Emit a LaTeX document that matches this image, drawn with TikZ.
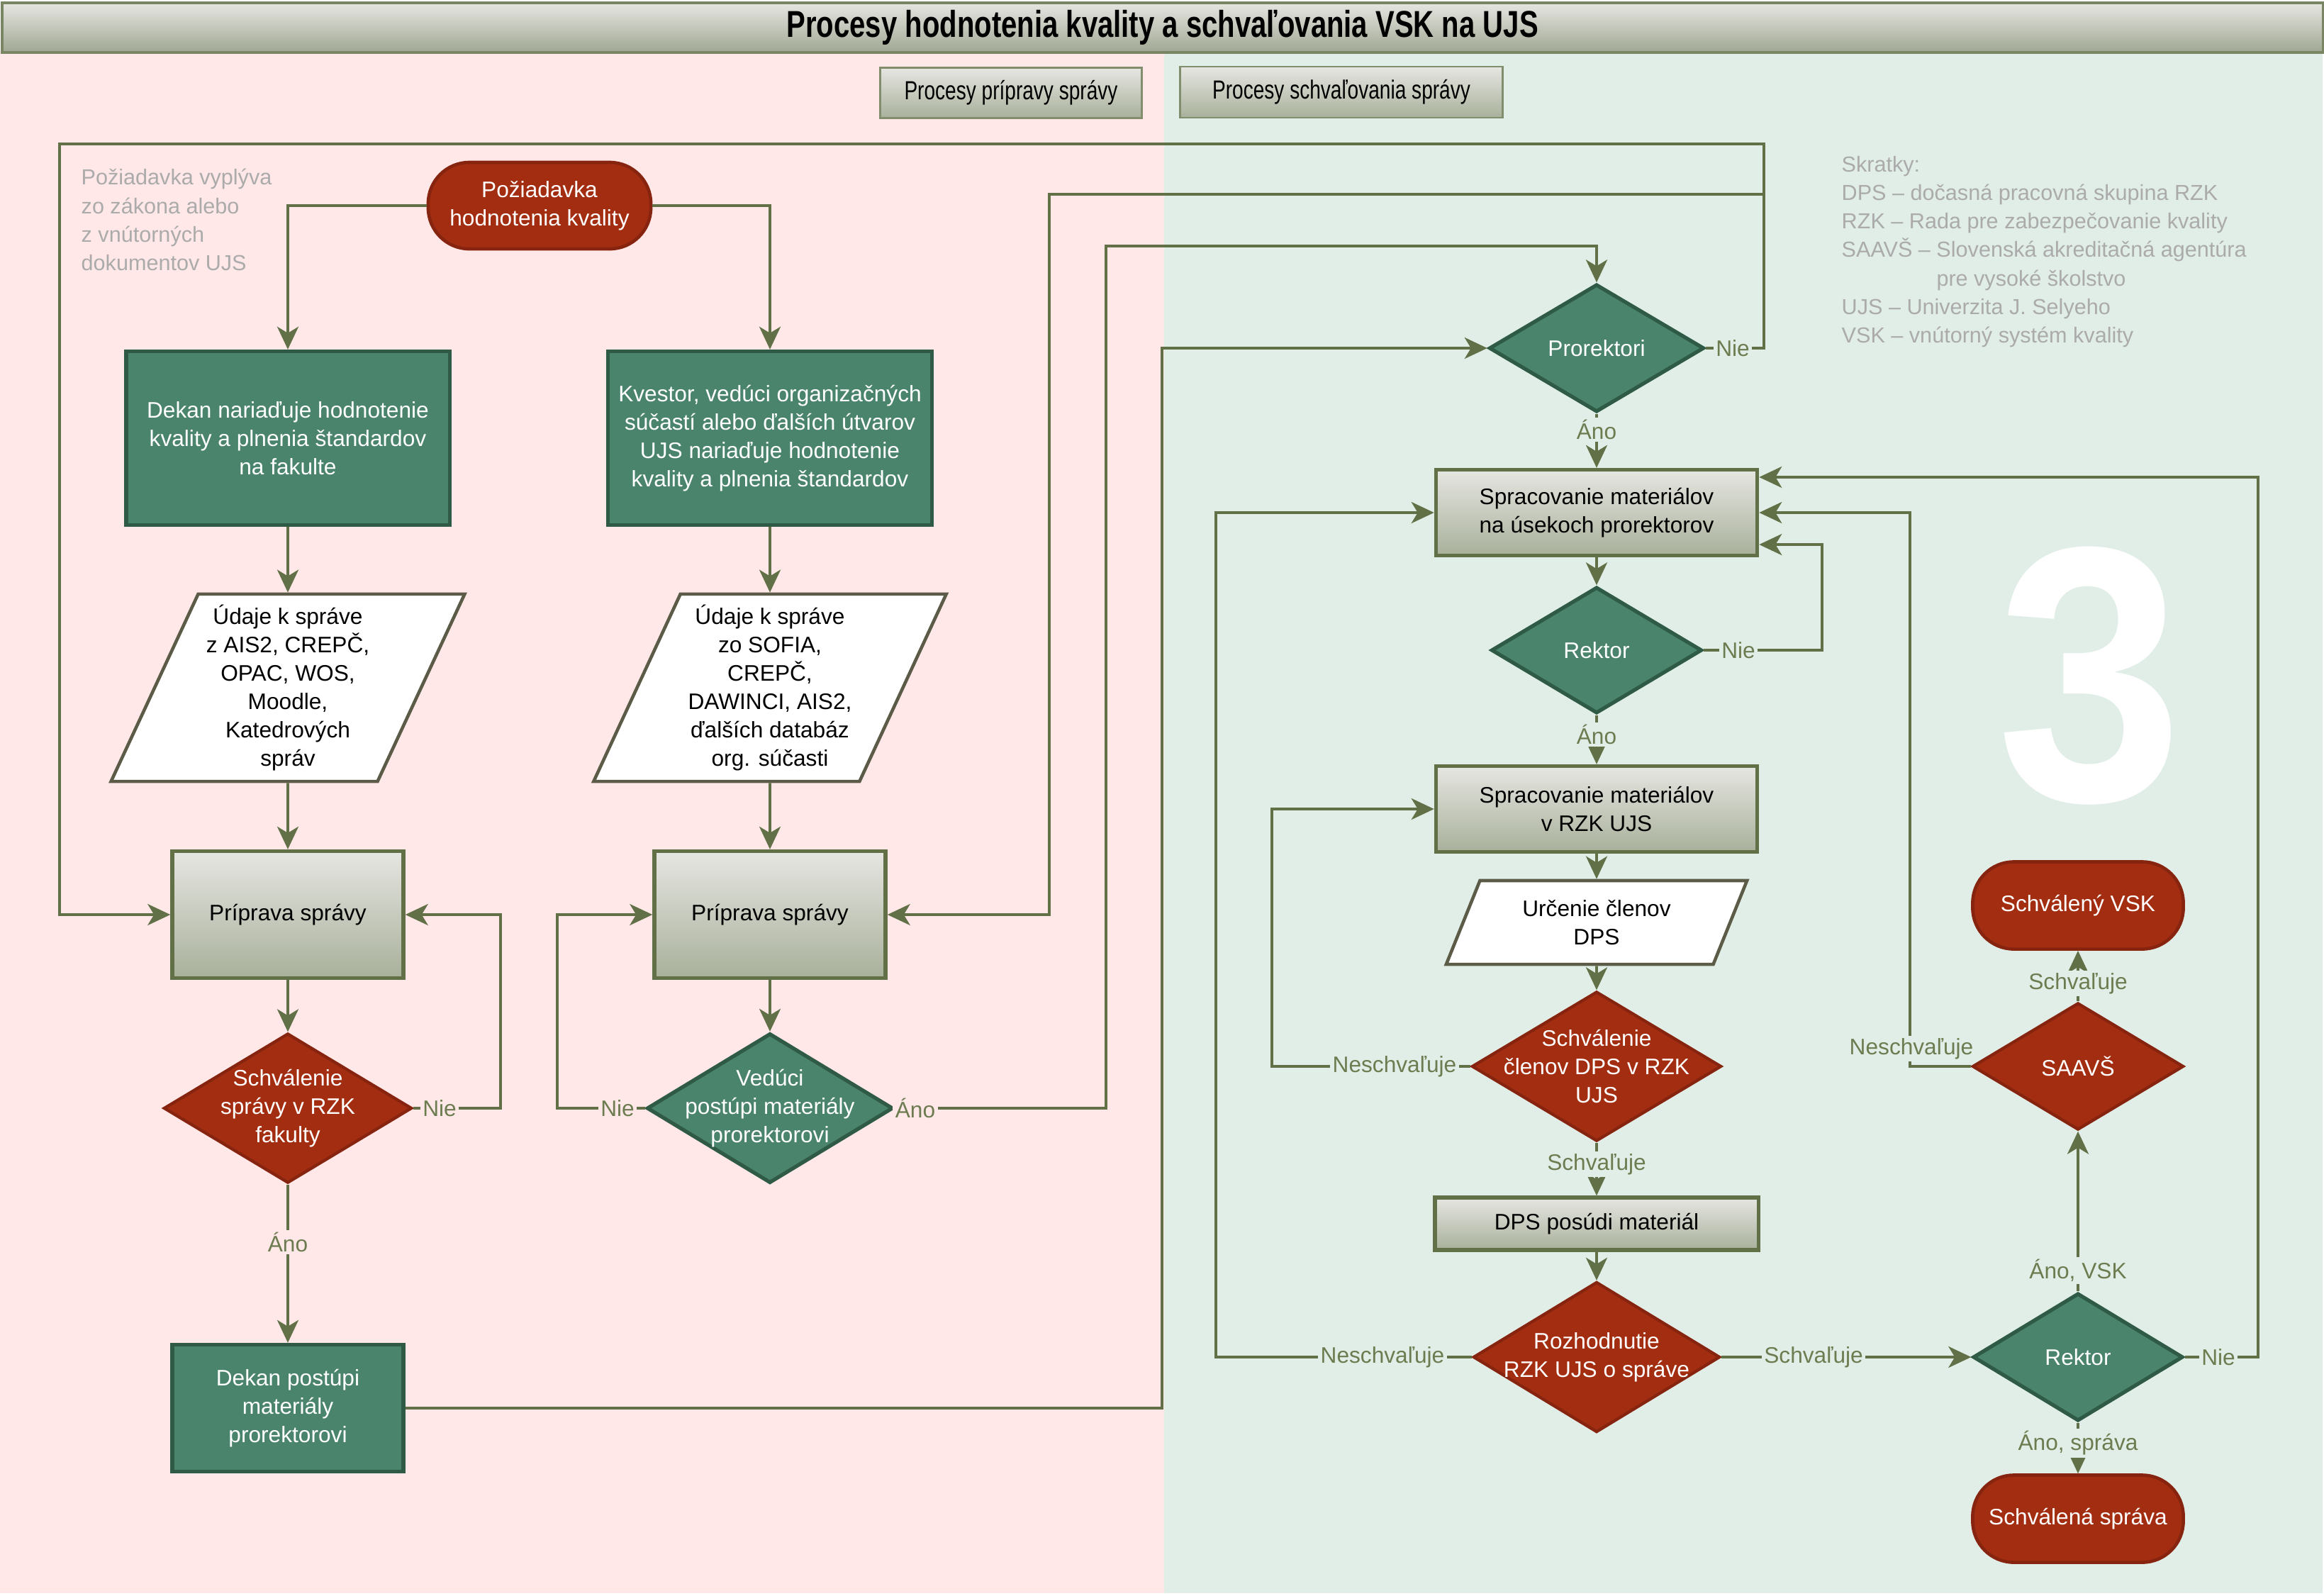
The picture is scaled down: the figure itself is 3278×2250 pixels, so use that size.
\documentclass[tikz,border=0pt]{standalone}
\usepackage{fontspec}
\setmainfont{Liberation Sans}
\newfontfamily\condfont{Liberation Sans}[FakeStretch=0.76]
\newfontfamily\digitfont{Liberation Sans}[FakeStretch=0.92]
\usetikzlibrary{shapes.geometric,arrows.meta}
\definecolor{bgP}{HTML}{FFE8E7}
\definecolor{bgG}{HTML}{E1EEE7}
\definecolor{ngreen}{HTML}{4A846C}
\definecolor{ngreenD}{HTML}{2F5B46}
\definecolor{nred}{HTML}{A32D10}
\definecolor{nredD}{HTML}{86240F}
\definecolor{lnc}{HTML}{617047}
\definecolor{gTop}{HTML}{E6E6E2}
\definecolor{gBot}{HTML}{A8B09A}
\definecolor{lblc}{HTML}{6D7C50}
\definecolor{notec}{HTML}{ABABAB}
\definecolor{parab}{HTML}{5B5B47}
\newcommand\mynf{\fontsize{9}{11.4}\selectfont}
\newcommand\mynotef{\fontsize{8.7}{11.4}\selectfont}
\begin{document}
\begin{tikzpicture}[x=0.01cm,y=-0.01cm,
  base/.style={align=center, inner sep=0pt, font=\mynf},
  proc/.style={base, rectangle, fill=ngreen, draw=ngreenD, line width=1.5pt, text=white},
  gbox/.style={base, rectangle, top color=gTop, bottom color=gBot, draw=lnc, line width=1.5pt, text=black},
  term/.style={base, rectangle, rounded corners=0.58cm, fill=nred, draw=nredD, line width=1.3pt, text=white, minimum width=2.97cm, minimum height=1.23cm},
  decr/.style={diamond, inner sep=0pt, fill=nred, draw=nredD, line width=1.2pt},
  decg/.style={diamond, inner sep=0pt, fill=ngreen, draw=ngreenD, line width=1.5pt},
  dtext/.style={base, text=white},
  para/.style={base, trapezium, trapezium left angle=64.5, trapezium right angle=115.5, trapezium stretches=true, fill=white, draw=parab, line width=1.3pt, text=black},
  conn/.style={draw=lnc, line width=1.1pt},
  arr/.style={conn, -{Stealth[length=0.32cm,width=0.3cm,inset=0.09cm]}},
  lblP/.style={font=\mynf, text=lblc, fill=bgP, inner sep=1pt},
  lblG/.style={font=\mynf, text=lblc, fill=bgG, inner sep=1pt},
  note/.style={font=\mynotef, text=notec, inner sep=0pt, anchor=west, align=left},
  btn/.style={rectangle, top color=gTop, bottom color=gBot, draw=lnc!80, line width=0.8pt, inner sep=0pt, font=\condfont\fontsize{10.5}{12}\selectfont}
]
\useasboundingbox (0,0) rectangle (3278,2250);
\fill[bgP] (0,72) rectangle (1642,2247);
\fill[bgG] (1642,72) rectangle (3276,2247);

% title bar
\node[rectangle, top color=gTop, bottom color=gBot!95!black, draw=lnc!85, line width=1pt, minimum width=32.72cm, minimum height=0.70cm, inner sep=0pt, anchor=north west, font=\condfont\bfseries\fontsize{15}{17}\selectfont] (title) at (1,2) {Procesy hodnotenia kvality a schvaľovania VSK na UJS};

\node[btn, minimum width=3.69cm, minimum height=0.71cm] (leg1) at (1426,131) {Procesy prípravy správy};
\node[btn, minimum width=4.54cm, minimum height=0.72cm] (leg2) at (1892,130) {Procesy schvaľovania správy};

% notes
\node[note] (note1) at (114,310) {Požiadavka vyplýva\\zo zákona alebo\\z vnútorných\\dokumentov UJS};
\node[note] (abbr) at (2597,355) {Skratky:\\DPS – dočasná pracovná skupina RZK\\RZK – Rada pre zabezpečovanie kvality\\SAAVŠ – Slovenská akreditačná agentúra\\\phantom{SAAVŠ – }pre vysoké školstvo\\UJS – Univerzita J. Selyeho\\VSK – vnútorný systém kvality};

\node[text=white, font=\digitfont\fontsize{146}{146}\selectfont\bfseries, inner sep=0pt] (three) at (2948,953) {3};

% left part
\node[term, minimum width=3.14cm, minimum height=1.22cm] (poz) at (761,290) {Požiadavka\\hodnotenia kvality};
\node[proc, minimum width=4.56cm, minimum height=2.45cm] (dekan) at (406,618) {Dekan nariaďuje hodnotenie\\kvality a plnenia štandardov\\na fakulte};
\node[proc, minimum width=4.57cm, minimum height=2.45cm] (kvestor) at (1086,618) {Kvestor, vedúci organizačných\\súčastí alebo ďalších útvarov\\UJS nariaďuje hodnotenie\\kvality a plnenia štandardov};
\node[para, minimum width=4.99cm, minimum height=2.64cm] (dat1) at (406,970) {Údaje k správe\\z AIS2, CREPČ,\\OPAC, WOS,\\Moodle,\\Katedrových\\správ};
\node[para, minimum width=4.98cm, minimum height=2.64cm] (dat2) at (1086,970) {Údaje k správe\\zo SOFIA,\\CREPČ,\\DAWINCI, AIS2,\\ďalších databáz\\org. súčasti};
\node[gbox, minimum width=3.26cm, minimum height=1.79cm] (prip1) at (406,1290) {Príprava správy};
\node[gbox, minimum width=3.26cm, minimum height=1.79cm] (prip2) at (1086,1290) {Príprava správy};
\node[decr, minimum width=3.50cm, minimum height=2.11cm, label={[dtext]center:{Schválenie\\správy v RZK\\fakulty}}] (sch1) at (406,1563) {};
\node[decg, minimum width=3.47cm, minimum height=2.11cm, label={[dtext]center:{Vedúci\\postúpi materiály\\prorektorovi}}] (ved) at (1086,1563) {};
\node[proc, minimum width=3.26cm, minimum height=1.79cm] (dekan2) at (406,1986) {Dekan postúpi\\materiály\\prorektorovi};

% right part
\node[decg, minimum width=3.03cm, minimum height=1.80cm, label={[dtext]center:{Prorektori}}] (pror) at (2252,491) {};
\node[gbox, minimum width=4.53cm, minimum height=1.21cm] (spr1) at (2252,723) {Spracovanie materiálov\\na úsekoch prorektorov};
\node[decg, minimum width=2.97cm, minimum height=1.78cm, label={[dtext]center:{Rektor}}] (rek1) at (2252,917) {};
\node[gbox, minimum width=4.53cm, minimum height=1.21cm] (spr2) at (2252,1141) {Spracovanie materiálov\\v RZK UJS};
\node[para, minimum width=4.25cm, minimum height=1.18cm] (urc) at (2252,1301) {Určenie členov\\DPS};
\node[decr, minimum width=3.52cm, minimum height=2.11cm, label={[dtext]center:{Schválenie\\členov DPS v RZK\\UJS}}] (sch2) at (2252,1504) {};
\node[gbox, minimum width=4.56cm, minimum height=0.74cm] (dps) at (2252,1726) {DPS posúdi materiál};
\node[decr, minimum width=3.48cm, minimum height=2.12cm, label={[dtext]center:{Rozhodnutie\\RZK UJS o správe}}] (roz) at (2252,1914) {};
\node[decg, minimum width=2.96cm, minimum height=1.80cm, label={[dtext]center:{Rektor}}] (rek2) at (2931,1914) {};
\node[decr, minimum width=2.98cm, minimum height=1.79cm, label={[dtext]center:{SAAVŠ}}] (saavs) at (2931,1504) {};
\node[term] (svsk) at (2931,1277) {Schválený VSK};
\node[term] (sspr) at (2931,2142) {Schválená správa};

% bend coordinates
\coordinate (b1) at (706,1563);
\coordinate (b2) at (786,1563);
\coordinate (b3) at (1560,1563);
\coordinate (b4) at (1560,347);
\coordinate (b5) at (1639,1986);
\coordinate (b6) at (2488,491);
\coordinate (b7) at (2488,203);
\coordinate (b8) at (84,203);
\coordinate (j1) at (2488,274);
\coordinate (j2) at (1480,274);
\coordinate (b9) at (2570,917);
\coordinate (b10) at (1794,1504);
\coordinate (b11) at (1715,1914);
\coordinate (b12) at (3185,1914);
\coordinate (b13) at (2694,1504);

% connectors
\draw[arr] (poz.west) -| (dekan.north);
\draw[arr] (poz.east) -| (kvestor.north);
\draw[arr] (dekan.south) -- (dekan.south |- dat1.north);
\draw[arr] (kvestor.south) -- (kvestor.south |- dat2.north);
\draw[arr] (dat1.south) -- (prip1.north);
\draw[arr] (dat2.south) -- (prip2.north);
\draw[arr] (prip1.south) -- (sch1.north);
\draw[arr] (prip2.south) -- (ved.north);
\draw[arr] (sch1.east) -- (b1) |- (prip1.east);
\draw[arr] (ved.west) -- (b2) |- (prip2.west);
\draw[arr] (ved.east) -- (b3) -- (b4) -| (pror.north);
\draw[arr] (sch1.south) -- (dekan2.north);
\draw[arr] (dekan2.east) -- (b5) |- (pror.west);
\draw[arr] (pror.east) -- (b6) -- (b7) -- (b8) |- (prip1.west);
\draw[arr] (j1) -- (j2) |- (prip2.east);
\draw[arr] (pror.south) -- (spr1.north);
\draw[arr] (spr1.south) -- (rek1.north);
\draw[arr] (rek1.east) -- (b9) |- ([yshift=-0.45cm]spr1.east);
\draw[arr] (rek1.south) -- (spr2.north);
\draw[arr] (spr2.south) -- (spr2.south |- urc.north);
\draw[arr] (urc.south) -- (sch2.north);
\draw[arr] (sch2.west) -- (b10) |- (spr2.west);
\draw[arr] (sch2.south) -- (dps.north);
\draw[arr] (dps.south) -- (roz.north);
\draw[arr] (roz.west) -- (b11) |- (spr1.west);
\draw[arr] (roz.east) -- (rek2.west);
\draw[arr] (rek2.east) -- (b12) |- ([yshift=0.5cm]spr1.east);
\draw[arr] (rek2.north) -- (saavs.south);
\draw[arr] (rek2.south) -- (sspr.north);
\draw[arr] (saavs.north) -- (svsk.south);
\draw[arr] (saavs.west) -- (b13) |- (spr1.east);

% connector labels
\node[lblP] (l1) at (620,1563) {Nie};
\node[lblP] (l2) at (871,1563) {Nie};
\node[lblP] (l3) at (1291,1563) {Áno};
\node[lblP] (l4) at (406,1752) {Áno};
\node[lblG] (l5) at (2444,491) {Nie};
\node[lblG] (l6) at (2252,606) {Áno};
\node[lblG] (l7) at (2452,917) {Nie};
\node[lblG] (l8) at (2252,1036) {Áno};
\node[lblG] (l9) at (1967,1504) {Neschvaľuje};
\node[lblG] (l10) at (2252,1642) {Schvaľuje};
\node[lblG] (l11) at (1950,1914) {Neschvaľuje};
\node[lblG] (l12) at (2558,1914) {Schvaľuje};
\node[lblG] (l13) at (3129,1914) {Nie};
\node[lblG] (l14) at (2931,1792) {Áno, VSK};
\node[lblG] (l15) at (2931,2035) {Áno, správa};
\node[lblG] (l16) at (2931,1387) {Schvaľuje};
\node[lblG] (l17) at (2696,1479) {Neschvaľuje};
\end{tikzpicture}
\end{document}
